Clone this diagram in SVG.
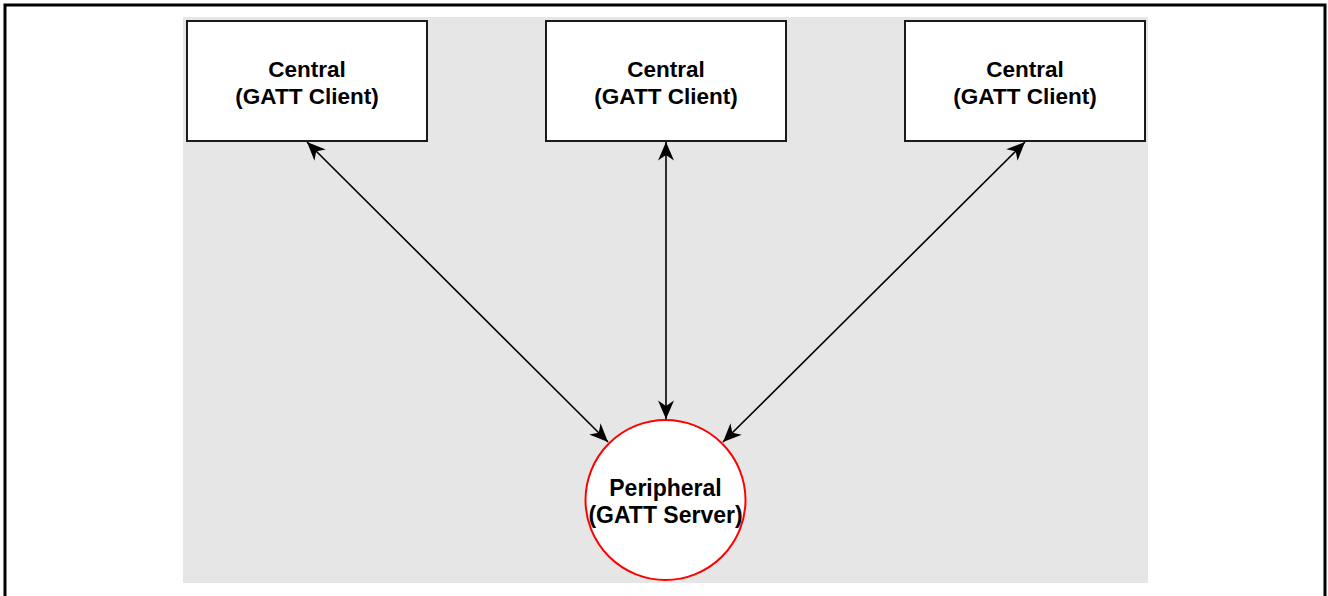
<svg xmlns="http://www.w3.org/2000/svg" width="1328" height="596" viewBox="0 0 1328 596">
  <style>
    .box { fill: #ffffff; stroke: #1a1a1a; stroke-width: 2; }
    .circ { fill: #ffffff; stroke: #ff0000; stroke-width: 2; }
    .lbl { font-family: "Liberation Sans", Arial, sans-serif; font-weight: bold; font-size: 22.5px; fill: #000000; text-anchor: middle; }
    .plbl { font-size: 23px; }
    .conn { stroke: #000000; stroke-width: 1.6; fill: none; marker-start: url(#arr); marker-end: url(#arr); }
  </style>
  <defs>
    <marker id="arr" markerUnits="userSpaceOnUse" viewBox="-19 -9 20 18" refX="0" refY="0" markerWidth="20" markerHeight="18" orient="auto-start-reverse">
      <path d="M0,0 L-18.5,-8 L-13,0 L-18.5,8 Z" fill="#000000"/>
    </marker>
  </defs>
  <rect x="0" y="0" width="1328" height="596" fill="#ffffff"/>
  <rect x="5" y="5" width="1320" height="610" fill="none" stroke="#000000" stroke-width="3"/>
  <rect x="183" y="17" width="965" height="566" fill="#e6e6e6"/>

  <g id="connectors">
    <line class="conn" x1="307" y1="142" x2="608" y2="442"/>
    <line class="conn" x1="666" y1="142" x2="666" y2="419"/>
    <line class="conn" x1="1025" y1="142" x2="723" y2="442"/>
  </g>

  <g id="central1">
    <rect class="box" x="187" y="21" width="240" height="120"/>
    <text class="lbl" x="307" y="77">Central</text>
    <text class="lbl" x="307" y="104">(GATT Client)</text>
  </g>
  <g id="central2">
    <rect class="box" x="546" y="21" width="240" height="120"/>
    <text class="lbl" x="666" y="77">Central</text>
    <text class="lbl" x="666" y="104">(GATT Client)</text>
  </g>
  <g id="central3">
    <rect class="box" x="905" y="21" width="240" height="120"/>
    <text class="lbl" x="1025" y="77">Central</text>
    <text class="lbl" x="1025" y="104">(GATT Client)</text>
  </g>
  <g id="peripheral">
    <circle class="circ" cx="665.5" cy="500" r="80"/>
    <text class="lbl plbl" x="665.5" y="496">Peripheral</text>
    <text class="lbl plbl" x="665.5" y="523">(GATT Server)</text>
  </g>
</svg>
